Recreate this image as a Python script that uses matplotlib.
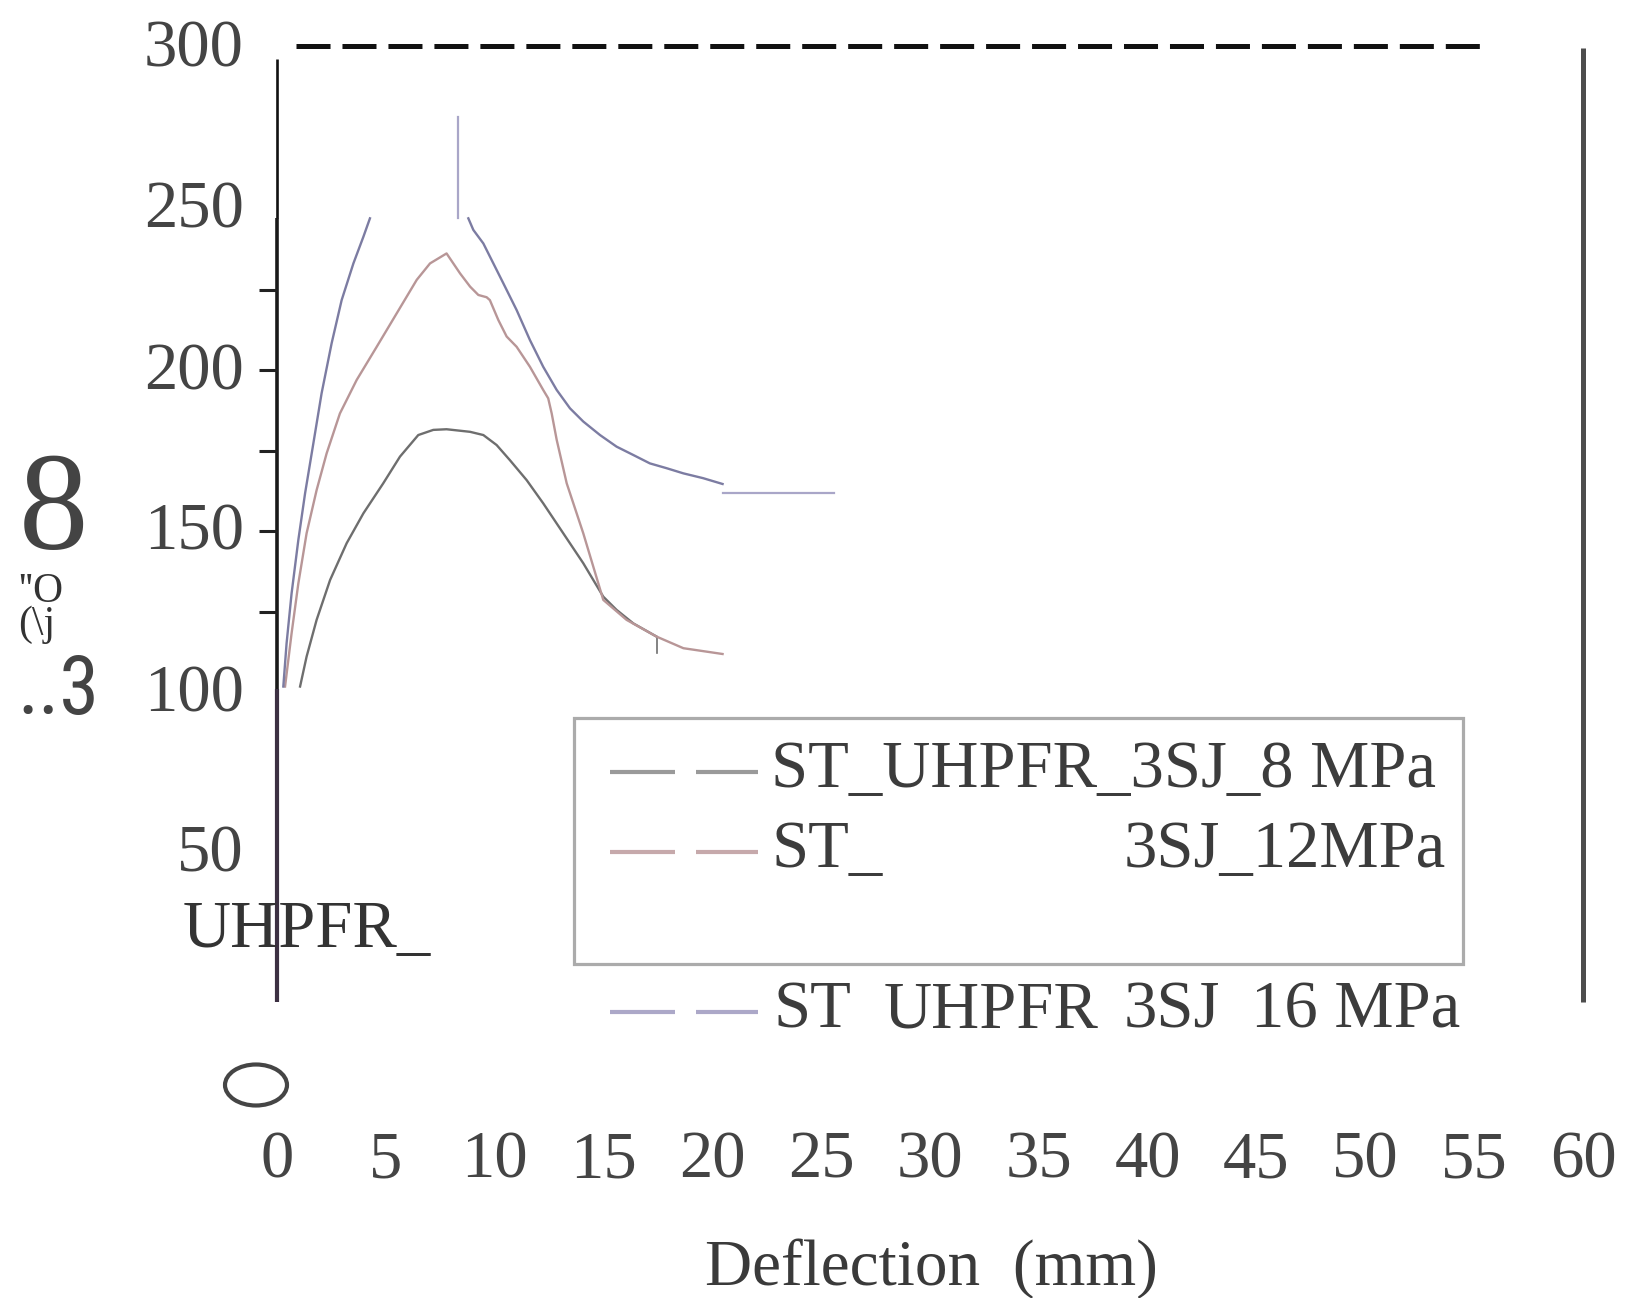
import matplotlib
matplotlib.use("Agg")
import matplotlib.pyplot as plt
import numpy as np
from matplotlib.patches import Ellipse, Rectangle
from matplotlib.lines import Line2D
from matplotlib.transforms import ScaledTranslation

plt.rcParams['font.family'] = ['Liberation Serif', 'DejaVu Serif']
plt.rcParams['lines.scale_dashes'] = False

# ---------------- data ----------------
x_ticks = [0, 5, 10, 15, 20, 25, 30, 35, 40, 45, 50, 55, 60]
x_tick_labels = ["0", "5", "10", "15", "20", "25", "30", "35", "40", "45", "50", "55", "60"]
y_ticks = [50, 100, 150, 200, 250, 300]
y_tick_labels = ["50", "100", "150", "200", "250", "300"]
inset_ticks = [125, 150, 175, 200, 225]

# ST_UHPFR_3SJ_8 MPa
x_8 = [1.06, 1.36, 1.82, 2.44, 3.20, 3.97, 4.88, 5.65, 6.49, 7.18, 7.79, 8.87, 9.48, 10.09, 10.70,
       11.47, 12.23, 13.15, 14.07, 14.99, 15.60, 16.37, 17.44]
y_8 = [101.7, 111.0, 122.4, 134.8, 146.2, 155.5, 164.8, 173.1, 179.8, 181.4, 181.6, 180.8, 179.8, 176.7, 172.0,
       165.8, 158.6, 149.3, 140.0, 129.6, 125.5, 121.3, 117.2]
x_8_end = [17.44, 17.44]
y_8_end = [117.2, 112.0]

# ST_UHPFR_3SJ_12 MPa
x_12 = [0.37, 0.67, 0.98, 1.36, 1.82, 2.28, 2.89, 3.66, 4.58, 5.50, 6.42, 7.03, 7.79, 8.41, 8.87, 9.25,
        9.63, 9.78, 10.17, 10.55, 11.01, 11.62, 12.23, 12.46, 12.62, 12.85, 13.31, 14.07, 14.99, 16.06,
        17.44, 18.67, 20.47]
y_12 = [101.7, 118.2, 133.7, 149.3, 162.7, 174.1, 186.5, 196.9, 207.2, 217.6, 228.0, 233.1, 236.2, 230.0,
        225.9, 223.3, 222.6, 221.7, 215.5, 210.4, 207.2, 201.0, 193.8, 191.2, 186.5, 178.3, 164.8, 149.3,
        128.6, 122.4, 117.2, 113.6, 111.8]

# ST_UHPFR_3SJ_16 MPa (visible part; peak region hidden)
x_16 = [0.29, 0.44, 0.67, 0.98, 1.29, 1.67, 2.05, 2.51, 2.97, 3.51, 3.97, 4.27, np.nan,
        8.79, 9.02, 9.48, 9.94, 10.40, 11.01, 11.62, 12.23, 12.85, 13.46, 14.07, 14.84, 15.60, 16.37,
        17.13, 17.90, 18.67, 19.58, 20.47]
y_16 = [101.7, 115.1, 130.6, 147.2, 161.7, 177.2, 192.8, 208.3, 221.7, 233.1, 241.4, 247.1, np.nan,
        247.1, 243.5, 239.3, 233.1, 226.9, 218.6, 209.3, 201.0, 193.8, 188.1, 184.0, 179.8, 176.2, 173.6,
        171.0, 169.5, 167.9, 166.4, 164.6]
x_16_stub_v = [8.31, 8.31]
y_16_stub_v = [247.2, 278.6]
x_16_stub_h = [20.5, 25.6]
y_16_stub_h = [161.8, 161.8]

ref_x = [0.87, 55.35]
ref_y = [300.5, 300.5]

legend_labels = ["ST_UHPFR_3SJ_8 MPa", "ST_", "3SJ_12MPa", "ST", "UHPFR", "3SJ", "16 MPa"]

# ---------------- figure ----------------
W, H = 1628, 1298
fig = plt.figure(figsize=(W / 100, H / 100), dpi=100)

def fx(px):
    return px / W

def fy(py):
    return 1 - py / H

ax = fig.add_axes([fx(277), fy(1014), (1583 - 277) / W, (1014 - 48) / H])
ax.set_xlim(0, 60)
ax.set_ylim(0, 300)
for s in ax.spines.values():
    s.set_visible(False)

txt_col = '#444444'
ax.set_xticks(x_ticks)
ax.set_xticklabels(x_tick_labels)
ax.set_yticks(y_ticks)
ax.set_yticklabels(y_tick_labels)
ax.tick_params(axis='x', length=0, pad=84, labelsize=48, labelcolor=txt_col)
ax.tick_params(axis='y', length=0, pad=24, labelsize=48, labelcolor=txt_col)
for lab in ax.get_yticklabels():
    lab.set_transform(lab.get_transform() + ScaledTranslation(0, 0.045, fig.dpi_scale_trans))

# axis lines
ax.plot([0, 0], [296.6, 247.3], color='#111111', lw=1.9, clip_on=False, solid_capstyle='butt')
ax.plot([0, 0], [247.3, 100.9], color='#1a1a1a', lw=2.6, clip_on=False, solid_capstyle='butt')
ax.plot([0, 0], [100.9, 3.7], color='#3c3042', lw=3.0, clip_on=False, solid_capstyle='butt')
ax.plot([60, 60], [300.0, 3.7], color='#4d4d4d', lw=3.6, clip_on=False, solid_capstyle='butt')
ax.hlines(inset_ticks, -0.83, 0, colors='#222222', lw=2.2, clip_on=False)

# reference dashed line
ax.plot(ref_x, ref_y, color='#111111', lw=3.6, dashes=(24.5, 8.6), clip_on=False,
        dash_capstyle='butt')

# curves
ax.plot(x_8, y_8, color='#6e6e6e', lw=1.7, clip_on=False)
ax.plot(x_8_end, y_8_end, color='#6e6e6e', lw=1.2, clip_on=False)
ax.plot(x_12, y_12, color='#b89697', lw=1.7, clip_on=False)
ax.plot(x_16, y_16, color='#7c7ca2', lw=1.7, clip_on=False)
ax.plot(x_16_stub_v, y_16_stub_v, color='#a9a6c8', lw=1.6, clip_on=False)
ax.plot(x_16_stub_h, y_16_stub_h, color='#a9a6c8', lw=1.6, clip_on=False)

# ellipse glyph above the "0" tick label
fig.add_artist(Ellipse((fx(256), fy(1085)), width=62 / W, height=41 / H, transform=fig.transFigure,
                       fill=False, ec='#454545', lw=3.0))

# y-label fragments
fig.text(fx(19), fy(549), "8", fontsize=100, color='#444444', ha='left', va='baseline')
fig.text(fx(18), fy(635), "''O\n(\\j", fontsize=30, color='#333333', ha='left', va='baseline',
         linespacing=0.8)
fig.text(fx(17), fy(714), "..3", fontsize=58, color='#444444', ha='left', va='baseline',
         family=['Roboto Condensed', 'Liberation Sans Narrow', 'DejaVu Sans Condensed', 'Liberation Serif'])

# stray label
fig.text(fx(183), fy(947), "UHPFR_", fontsize=48, color='#333333', ha='left', va='baseline')

# x label
fig.text(fx(931), fy(1285), "Deflection  (mm)", fontsize=47, color='#3a3a3a', ha='center', va='baseline')

# legend box
fig.add_artist(Rectangle((fx(574), fy(964)), (1463 - 574) / W, (964 - 718) / H, transform=fig.transFigure,
                         fill=False, ec='#ababab', lw=2.3))
handle_cols = ['#9a9a9a', '#c6a9ab', '#aca8c8']
handle_y = [772, 852, 1012]
for c, yy in zip(handle_cols, handle_y):
    for xa, xb in [(610, 675), (696, 758)]:
        fig.add_artist(Line2D([fx(xa), fx(xb)], [fy(yy), fy(yy)], transform=fig.transFigure,
                              color=c, lw=3.0, solid_capstyle='butt'))

leg_col = '#3c3c3c'
fig.text(fx(771), fy(787), legend_labels[0], fontsize=48, color=leg_col, va='baseline')
fig.text(fx(771), fy(867), legend_labels[1], fontsize=48, color=leg_col, va='baseline')
fig.text(fx(1124), fy(867), legend_labels[2], fontsize=48, color=leg_col, va='baseline')
fig.text(fx(773), fy(1027), legend_labels[3], fontsize=48, color=leg_col, va='baseline')
fig.text(fx(884), fy(1027), legend_labels[4], fontsize=48, color=leg_col, va='baseline')
fig.text(fx(1124), fy(1027), legend_labels[5], fontsize=48, color=leg_col, va='baseline')
fig.text(fx(1251), fy(1027), legend_labels[6], fontsize=48, color=leg_col, va='baseline')

fig.savefig("out.png", dpi=100)
